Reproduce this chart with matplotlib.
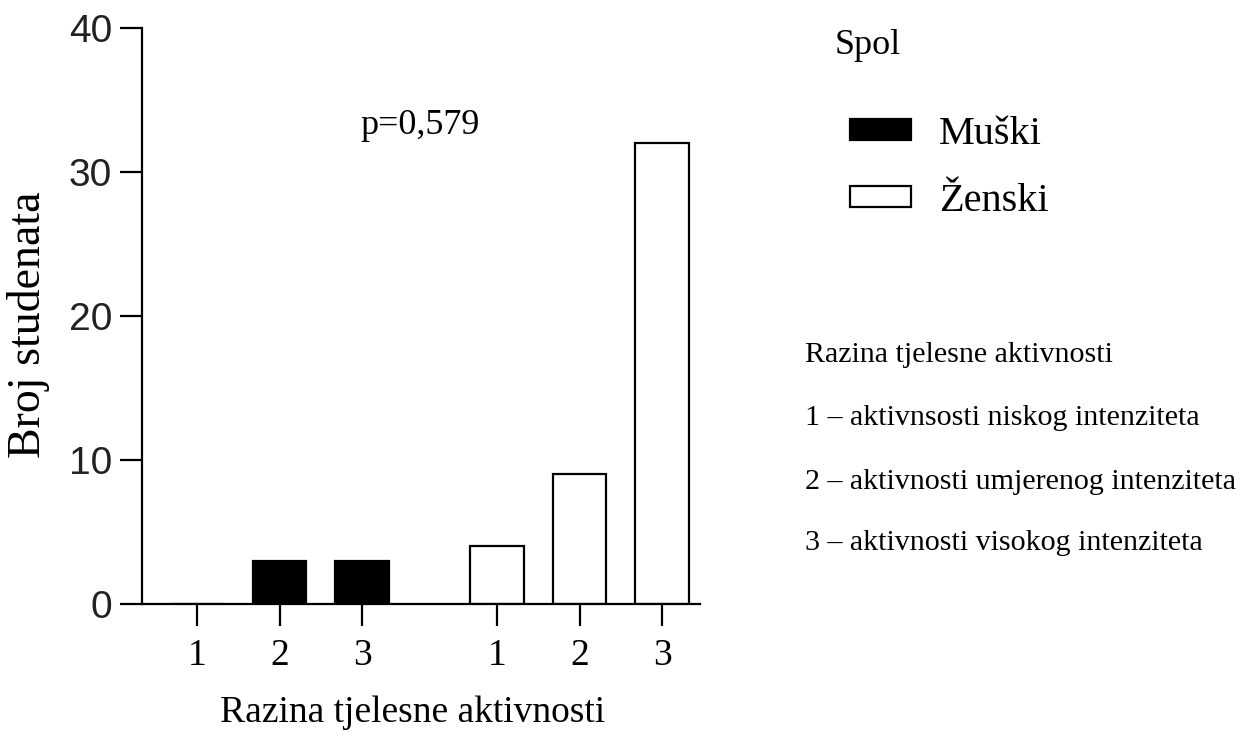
import matplotlib
matplotlib.use("Agg")
import matplotlib.pyplot as plt
from matplotlib.patches import Patch
import numpy as np

# ---- data ----
categories = ["1", "2", "3"]
muski = [0, 3, 3]
zenski = [4, 9, 32]
series_names = ["Muški", "Ženski"]
p_text = "p=0,579"
y_label = "Broj studenata"
x_label = "Razina tjelesne aktivnosti"
legend_title = "Spol"
notes = ["Razina tjelesne aktivnosti",
         "1 \u2013 aktivnsosti niskog intenziteta",
         "2 \u2013 aktivnosti umjerenog intenziteta",
         "3 \u2013 aktivnosti visokog intenziteta"]

SERIF = ["Liberation Serif", "DejaVu Serif"]
SANS = ["Liberation Sans", "DejaVu Sans"]

W, H = 1245, 749
fig = plt.figure(figsize=(W / 100, H / 100), dpi=100)
ax = fig.add_axes([142 / W, 1 - 604 / H, (700 - 142) / W, (604 - 28) / H])

gap = 1.64
bw = 0.65
xm = np.arange(len(categories))
xz = xm + len(categories) - 1 + gap

lw = 1.6
ax.bar(xm, muski, width=bw, color="black", edgecolor="black", linewidth=lw)
ax.bar(xz, zenski, width=bw, color="white", edgecolor="black", linewidth=lw)

ax.set_xlim(-0.67, 6.1)
ax.set_ylim(0, 40)
ax.set_yticks([0, 10, 20, 30, 40])
ax.set_xticks(list(xm) + list(xz))
ax.set_xticklabels(categories + categories, fontfamily=SERIF, fontsize=27)
for lab in ax.get_yticklabels():
    lab.set_fontfamily(SANS)
    lab.set_fontsize(28)
    lab.set_color("#222222")

for s in ["top", "right"]:
    ax.spines[s].set_visible(False)
for s in ["left", "bottom"]:
    ax.spines[s].set_linewidth(lw)
    ax.spines[s].set_color("black")
ax.tick_params(axis="both", direction="out", length=15.5, width=lw, color="black")
ax.tick_params(axis="y", pad=6)
ax.tick_params(axis="x", pad=9)

ax.text(2.7, 33.2, p_text, ha="center", va="center", fontsize=26, fontfamily=SERIF)

fig.text(29 / W, 1 - 325 / H, y_label, rotation=90, ha="center", va="center",
         fontsize=33, fontfamily=SERIF)
fig.text(413 / W, 1 - 713 / H, x_label, ha="center", va="center",
         fontsize=27, fontfamily=SERIF)

fig.text(835 / W, 1 - 45 / H, legend_title, ha="left", va="center",
         fontsize=26, fontfamily=SERIF)
handles = [Patch(facecolor="black", edgecolor="black", linewidth=lw),
           Patch(facecolor="white", edgecolor="black", linewidth=lw)]
leg = fig.legend(handles, series_names, loc="upper left",
                 bbox_to_anchor=(838 / W, 1 - 104 / H), frameon=False,
                 prop={"family": SERIF, "size": 29}, handlelength=1.5,
                 handleheight=0.42, handletextpad=0.7, labelspacing=0.75,
                 borderaxespad=0, borderpad=0.3)

ys = [355, 418, 482, 543]
for t, y in zip(notes, ys):
    fig.text(805 / W, 1 - y / H, t, ha="left", va="center",
             fontsize=21.6, fontfamily=SERIF)

fig.savefig("out.png", dpi=100, facecolor="white")
